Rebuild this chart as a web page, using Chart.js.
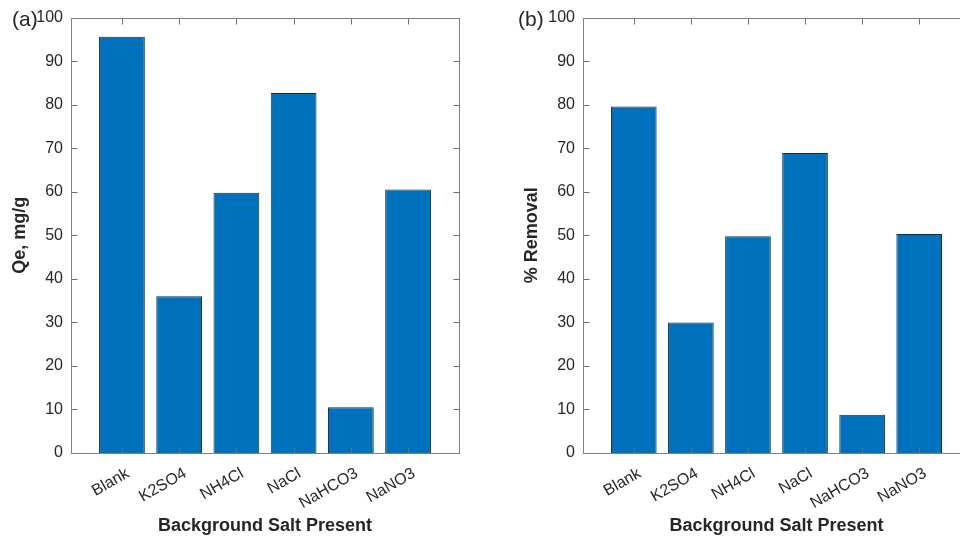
<!DOCTYPE html>
<html>
<head>
<meta charset="utf-8">
<script src="https://cdn.jsdelivr.net/npm/chart.js@4"></script>
<style>
  html, body { margin: 0; padding: 0; background: #fff; overflow: hidden; }
  body { width: 960px; height: 537px; position: relative; }
  .wrap { position: absolute; top: 0; height: 537px; overflow: hidden; }
  .tag { position: absolute; top: 7px; font: 21px "Liberation Sans", Arial, sans-serif; color: #262626; }
</style>
</head>
<body>
<div class="wrap" style="left:0px; width:480px"><canvas id="chartA" width="480" height="537"></canvas></div>
<div class="wrap" style="left:512px; width:448px"><canvas id="chartB" width="488" height="537"></canvas></div>
<div class="tag" style="left:12px">(a)</div>
<div class="tag" style="left:518px">(b)</div>
<script>
// categorias y valores
const categories = ['Blank', 'K2SO4', 'NH4Cl', 'NaCl', 'NaHCO3', 'NaNO3'];
const qeValues = [95.6, 36.0, 59.8, 82.7, 10.5, 60.5];
const removalValues = [79.6, 30.0, 49.8, 68.9, 8.8, 50.3];
const yMin = 0, yMax = 100, yStep = 10;

const fontFamily = '"Liberation Sans", Arial, sans-serif';
const textColor = '#262626';
const barColor = '#0072BD';

// caja tipo MATLAB con ticks hacia adentro
const boxPlugin = {
  id: 'box',
  afterDraw(chart) {
    const ctx = chart.ctx;
    const a = chart.chartArea;
    const xs = chart.scales.x, ys = chart.scales.y;
    const L = Math.round(a.left) + 0.5, R = Math.round(a.right) + 0.5;
    const T = Math.round(a.top) + 0.5, B = Math.round(a.bottom) + 0.5;
    const len = 6;
    ctx.save();
    ctx.lineWidth = 1;
    ctx.strokeStyle = '#6e6e6e';
    ctx.beginPath();
    ys.ticks.forEach(t => {
      const y = Math.round(ys.getPixelForValue(t.value)) + 0.5;
      ctx.moveTo(L, y); ctx.lineTo(L + len, y);
      ctx.moveTo(R, y); ctx.lineTo(R - len, y);
    });
    xs.ticks.forEach(t => {
      const x = Math.round(xs.getPixelForValue(t.value)) + 0.5;
      ctx.moveTo(x, B); ctx.lineTo(x, B - len);
      ctx.moveTo(x, T); ctx.lineTo(x, T + len);
    });
    ctx.stroke();
    ctx.strokeStyle = '#808080';
    ctx.strokeRect(L, T, R - L, B - T);
    ctx.restore();
  }
};

function makeChart(id, values, yTitle, padRight) {
  const ctx = document.getElementById(id).getContext('2d');
  return new Chart(ctx, {
    type: 'bar',
    data: {
      datasets: [{
        data: values.map((v, i) => ({ x: i + 1, y: v })),
        backgroundColor: barColor,
        borderColor: '#1c2a38',
        borderWidth: 1,
        categoryPercentage: 0.8,
        barPercentage: 1.0
      }]
    },
    options: {
      responsive: false,
      animation: false,
      layout: { padding: { top: 16, right: padRight, left: 0, bottom: 0 } },
      plugins: { legend: { display: false }, tooltip: { enabled: false } },
      scales: {
        x: {
          type: 'linear',
          offset: false,
          min: 0.11,
          max: 6.89,
          grid: { display: false, drawTicks: false },
          border: { display: false },
          afterBuildTicks: scale => { scale.ticks = categories.map((c, i) => ({ value: i + 1 })); },
          afterFit: scale => { scale.height = 84; },
          ticks: {
            autoSkip: false,
            minRotation: 30,
            maxRotation: 30,
            padding: 11,
            labelOffset: 6,
            color: textColor,
            font: { family: fontFamily, size: 16 },
            callback: v => categories[v - 1]
          },
          title: {
            display: true,
            text: 'Background Salt Present',
            color: textColor,
            font: { family: fontFamily, size: 18, weight: 'bold' },
            padding: { top: 0, bottom: 0 }
          }
        },
        y: {
          min: yMin,
          max: yMax,
          grid: { display: false, drawTicks: false },
          border: { display: false },
          afterFit: scale => { scale.width = 71; },
          ticks: {
            stepSize: yStep,
            padding: 8,
            color: textColor,
            font: { family: fontFamily, size: 16 }
          },
          title: {
            display: true,
            text: yTitle,
            color: textColor,
            font: { family: fontFamily, size: 18, weight: 'bold' },
            padding: { top: 9, bottom: 0 }
          }
        }
      }
    },
    plugins: [boxPlugin]
  });
}

makeChart('chartA', qeValues, 'Qe, mg/g', 21);
// el panel (b) sigue mas alla del borde derecho, como en la figura
makeChart('chartB', removalValues, '% Removal', 30);
</script>
</body>
</html>
